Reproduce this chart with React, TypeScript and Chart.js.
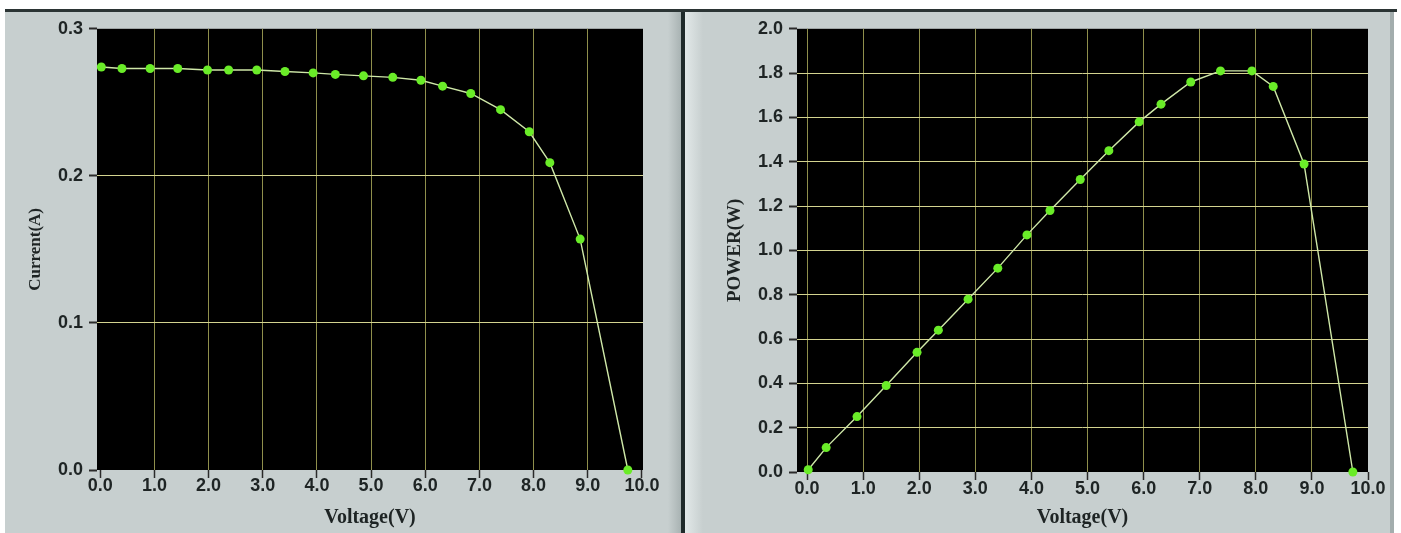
import React, { useEffect, useRef } from "react";
import { Chart, registerables } from "chart.js";

Chart.register(...registerables);

// ---- Data ----
const ivVoltage = [0.02, 0.40, 0.92, 1.43, 1.98, 2.37, 2.89, 3.41, 3.93, 4.34, 4.86, 5.40, 5.92, 6.32, 6.84, 7.39, 7.92, 8.30, 8.86, 9.74];
const ivCurrent = [0.274, 0.273, 0.273, 0.273, 0.272, 0.272, 0.272, 0.271, 0.270, 0.269, 0.268, 0.267, 0.265, 0.261, 0.256, 0.245, 0.230, 0.209, 0.157, 0.0];

const pvVoltage = [0.02, 0.34, 0.89, 1.41, 1.96, 2.34, 2.87, 3.40, 3.92, 4.33, 4.87, 5.38, 5.92, 6.31, 6.84, 7.37, 7.93, 8.31, 8.86, 9.73];
const pvPower = [0.01, 0.11, 0.25, 0.39, 0.54, 0.64, 0.78, 0.92, 1.07, 1.18, 1.32, 1.45, 1.58, 1.66, 1.76, 1.81, 1.81, 1.74, 1.39, 0.0];

const voltageTicks = [0, 1, 2, 3, 4, 5, 6, 7, 8, 9, 10];
const currentTicks = [0, 0.1, 0.2, 0.3];
const powerTicks = [0, 0.2, 0.4, 0.6, 0.8, 1.0, 1.2, 1.4, 1.6, 1.8, 2.0];

const xTitleText = "Voltage(V)";
const currentTitleText = "Current(A)";
const powerTitleText = "POWER(W)";

// ---- Styling ----
const PANEL = "#c7cfcf";
const LINE = "#cfe8a8";
const MARKER = "#6aec28";
const XGRID = "#8f8f4c";
const YGRID = "#d4d490";
const TICKTEXT = "#1e2424";

const blackArea = {
  id: "blackArea",
  beforeDraw(chart: any) {
    const { ctx, chartArea: a } = chart;
    ctx.save();
    ctx.fillStyle = "#000";
    ctx.fillRect(a.left, a.top, a.right - a.left, a.bottom - a.top);
    ctx.restore();
  },
};

function makeConfig(opts: {
  xs: number[];
  ys: number[];
  yTicks: number[];
  yMax: number;
  xMin: number;
  xMax: number;
  yTitle: string;
  yTitleSize: number;
  yAxisWidth: number;
  yTitlePad: number;
  xAxisHeight: number;
  xLabelPad: number;
  padTop: number;
  padRight: number;
  hideX0: boolean;
}) {
  const points = opts.xs.map((x, i) => ({ x, y: opts.ys[i] }));
  return {
    type: "scatter" as const,
    data: {
      datasets: [
        {
          data: points,
          showLine: true,
          borderColor: LINE,
          borderWidth: 1.4,
          backgroundColor: MARKER,
          pointBackgroundColor: MARKER,
          pointBorderColor: MARKER,
          pointBorderWidth: 0,
          pointRadius: 4.5,
          tension: 0,
          clip: false as any,
        },
      ],
    },
    options: {
      animation: false as const,
      responsive: false,
      maintainAspectRatio: false,
      layout: { padding: { left: 0, top: opts.padTop, right: opts.padRight, bottom: 0 } },
      plugins: { legend: { display: false }, tooltip: { enabled: false } },
      scales: {
        x: {
          type: "linear" as const,
          min: opts.xMin,
          max: opts.xMax,
          afterBuildTicks: (scale: any) => {
            scale.ticks = voltageTicks.map((v) => ({ value: v }));
          },
          afterFit: (scale: any) => {
            scale.height = opts.xAxisHeight;
          },
          border: { display: false },
          grid: {
            color: (ctx: any) => {
              const v = ctx.tick ? ctx.tick.value : null;
              if (v === 10 || (opts.hideX0 && v === 0)) return "rgba(0,0,0,0)";
              return XGRID;
            },
            lineWidth: 1,
            drawTicks: true,
            tickLength: 8,
            tickColor: "#2a2a2a",
            tickWidth: 1.5,
          },
          ticks: {
            autoSkip: false,
            maxRotation: 0,
            padding: opts.xLabelPad,
            color: TICKTEXT,
            font: { family: "'Liberation Sans', Arial, sans-serif", size: 18, weight: "bold" as const },
            callback: (v: any) => Number(v).toFixed(1),
          },
          title: {
            display: true,
            text: xTitleText,
            color: TICKTEXT,
            font: { family: "'Liberation Serif', 'Times New Roman', serif", size: 20, weight: "bold" as const },
            padding: { top: 0, bottom: 3 },
          },
        },
        y: {
          type: "linear" as const,
          min: 0,
          max: opts.yMax,
          afterBuildTicks: (scale: any) => {
            scale.ticks = opts.yTicks.map((v) => ({ value: v }));
          },
          afterFit: (scale: any) => {
            scale.width = opts.yAxisWidth;
          },
          border: { display: false },
          grid: {
            color: (ctx: any) => {
              const v = ctx.tick ? ctx.tick.value : null;
              if (v === 0 || Math.abs(v - opts.yMax) < 1e-9) return "rgba(0,0,0,0)";
              return YGRID;
            },
            lineWidth: 1,
            drawTicks: true,
            tickLength: 8,
            tickColor: "#2a2a2a",
            tickWidth: 2,
          },
          ticks: {
            autoSkip: false,
            padding: 6,
            color: TICKTEXT,
            font: { family: "'Liberation Sans', Arial, sans-serif", size: 18, weight: "bold" as const },
            callback: (v: any) => Number(v).toFixed(1),
          },
          title: {
            display: true,
            text: opts.yTitle,
            color: TICKTEXT,
            font: { family: "'Liberation Serif', 'Times New Roman', serif", size: opts.yTitleSize, weight: "bold" as const },
            padding: { top: opts.yTitlePad, bottom: 0 },
          },
        },
      },
    },
    plugins: [blackArea],
  };
}

export default function App() {
  const leftRef = useRef<HTMLCanvasElement>(null);
  const rightRef = useRef<HTMLCanvasElement>(null);

  useEffect(() => {
    const c1 = new Chart(
      leftRef.current as HTMLCanvasElement,
      makeConfig({
        xs: ivVoltage,
        ys: ivCurrent,
        yTicks: currentTicks,
        yMax: 0.3,
        xMin: -0.06,
        xMax: 10.02,
        yTitle: currentTitleText,
        yTitleSize: 17,
        yAxisWidth: 92,
        yTitlePad: 20,
        xAxisHeight: 63,
        xLabelPad: -3,
        padTop: 13,
        padRight: 38,
        hideX0: true,
      }) as any
    );
    const c2 = new Chart(
      rightRef.current as HTMLCanvasElement,
      makeConfig({
        xs: pvVoltage,
        ys: pvPower,
        yTicks: powerTicks,
        yMax: 2.0,
        xMin: -0.18,
        xMax: 10.0,
        yTitle: powerTitleText,
        yTitleSize: 19,
        yAxisWidth: 112,
        yTitlePad: 39,
        xAxisHeight: 61,
        xLabelPad: -2,
        padTop: 16,
        padRight: 25,
        hideX0: false,
      }) as any
    );
    return () => {
      c1.destroy();
      c2.destroy();
    };
  }, []);

  return (
    <div
      style={{
        position: "absolute",
        left: 0,
        top: 0,
        width: 1401,
        height: 533,
        background: "#ffffff",
        overflow: "hidden",
      }}
    >
      {/* top dark rule */}
      <div style={{ position: "absolute", left: 5, top: 9, width: 1392, height: 3, background: "#2b3434" }} />
      {/* left panel */}
      <div style={{ position: "absolute", left: 5, top: 12, width: 676, height: 521, background: PANEL }} />
      {/* divider shading */}
      <div
        style={{
          position: "absolute",
          left: 668,
          top: 12,
          width: 13,
          height: 521,
          background: `linear-gradient(to right, ${PANEL}, #a9b3b3)`,
        }}
      />
      <div style={{ position: "absolute", left: 681, top: 12, width: 4, height: 521, background: "#1f2a2a" }} />
      {/* right panel */}
      <div style={{ position: "absolute", left: 685, top: 12, width: 708, height: 521, background: PANEL }} />
      <div
        style={{
          position: "absolute",
          left: 685,
          top: 12,
          width: 18,
          height: 521,
          background: `linear-gradient(to right, #e2e8e8, ${PANEL})`,
        }}
      />
      <div style={{ position: "absolute", left: 1390, top: 12, width: 4, height: 521, background: "#a3adad" }} />

      <canvas
        ref={leftRef}
        width={676}
        height={521}
        style={{ position: "absolute", left: 5, top: 12, width: 676, height: 521 }}
      />
      <canvas
        ref={rightRef}
        width={708}
        height={521}
        style={{ position: "absolute", left: 685, top: 12, width: 708, height: 521 }}
      />
    </div>
  );
}
